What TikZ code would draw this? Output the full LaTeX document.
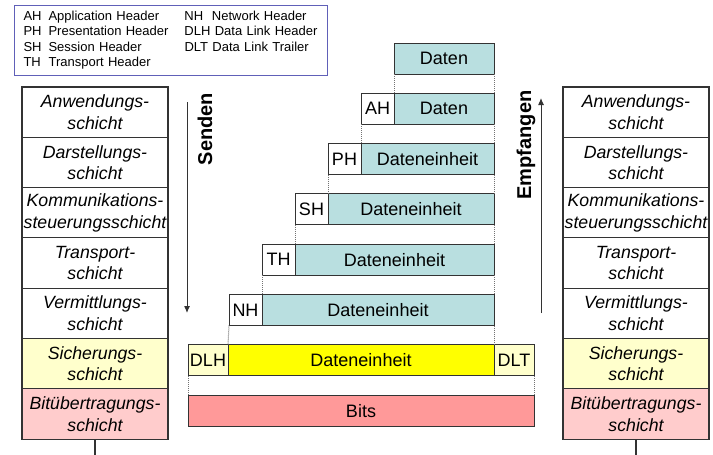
\documentclass[tikz,border=0pt]{standalone}
\usepackage{fontspec}
\setmainfont{Liberation Sans}
\usetikzlibrary{positioning,arrows.meta}
\definecolor{datablue}{RGB}{185,223,224}
\definecolor{frameyellow}{RGB}{255,255,0}
\definecolor{paleyellow}{RGB}{255,255,204}
\definecolor{bitred}{RGB}{255,153,153}
\definecolor{palered}{RGB}{255,204,204}
\definecolor{keyblue}{RGB}{96,96,184}
\tikzset{
  layer/.style={draw=black!80,line width=1.1pt,minimum width=146pt,minimum height=50.3pt,
    text width=146pt,align=center,inner sep=0pt,outer sep=0pt,
    font=\fontsize{17.7}{21.5}\selectfont\itshape},
  unit/.style={draw=black!80,line width=1pt,minimum height=31pt,inner sep=0pt,outer sep=0pt,
    font=\fontsize{18}{21}\selectfont},
  hdr/.style={unit,fill=white,minimum width=33pt},
  trail/.style={unit,fill=paleyellow,minimum width=40pt},
  gap/.style={black!55,dash pattern=on 1pt off 1pt,line width=1pt},
  dir/.style={font=\fontsize{20}{24}\selectfont\bfseries,rotate=90,inner sep=0pt,anchor=base},
  flow/.style={draw=black!80,line width=1pt,-{Latex[length=7pt,width=6pt]}},
  key/.style={draw=keyblue,line width=1pt,anchor=north west,text width=295pt,inner xsep=9pt,
    minimum height=70pt,font=\fontsize{13}{15.5}\selectfont}
}
\begin{document}
\begin{tikzpicture}[x=1pt,y=-1pt]
  \useasboundingbox (0,0) rectangle (713,455);
  % Legende
  \node[key] (key) at (14,5) {%
    \begin{tabular}{@{}l@{\hspace{7pt}}l@{\hspace{16pt}}l@{}}
      AH & Application Header & NH\ \ Network Header\\
      PH & Presentation Header & DLH Data Link Header\\
      SH & Session Header & DLT Data Link Trailer\\
      TH & Transport Header & \\
    \end{tabular}};

  % Schichten links
  \node[layer] (l1) at (95,112.15) {Anwendungs-\\schicht};
  \node[layer,below=0pt of l1] (l2) {Darstellungs-\\schicht};
  \node[layer,below=0pt of l2] (l3) {Kommunikations-\\steuerungsschicht};
  \node[layer,below=0pt of l3] (l4) {Transport-\\schicht};
  \node[layer,below=0pt of l4] (l5) {Vermittlungs-\\schicht};
  \node[layer,below=0pt of l5,fill=paleyellow] (l6) {Sicherungs-\\schicht};
  \node[layer,below=0pt of l6,fill=palered] (l7) {Bitübertragungs-\\schicht};
  \coordinate[below=16pt of l7] (lfoot);
  \draw[draw=black!80,line width=1.1pt] (l7.south) -- (lfoot);

  % Schichten rechts
  \node[layer] (r1) at (636,112.15) {Anwendungs-\\schicht};
  \node[layer,below=0pt of r1] (r2) {Darstellungs-\\schicht};
  \node[layer,below=0pt of r2] (r3) {Kommunikations-\\steuerungsschicht};
  \node[layer,below=0pt of r3] (r4) {Transport-\\schicht};
  \node[layer,below=0pt of r4] (r5) {Vermittlungs-\\schicht};
  \node[layer,below=0pt of r5,fill=paleyellow] (r6) {Sicherungs-\\schicht};
  \node[layer,below=0pt of r6,fill=palered] (r7) {Bitübertragungs-\\schicht};
  \coordinate[below=16pt of r7] (rfoot);
  \draw[draw=black!80,line width=1.1pt] (r7.south) -- (rfoot);

  % Richtung
  \node[dir] (send) at (212,129) {Senden};
  \coordinate (sendtop) at (187,102);
  \coordinate (sendend) at (187,313);
  \draw[flow] (sendtop) -- (sendend);
  \node[dir] (recv) at (531,145) {Empfangen};
  \coordinate (recvend) at (541,313);
  \coordinate (recvtop) at (541,98);
  \draw[flow] (recvend) -- (recvtop);

  % Dateneinheiten
  \node[unit,fill=datablue,minimum width=100pt,anchor=east] (d1) at (494,58.5) {Daten};
  \node[unit,fill=datablue,minimum width=100pt,anchor=east] (d2) at (494,108.8) {Daten};
  \node[hdr,left=0pt of d2] (ah) {AH};
  \node[unit,fill=datablue,minimum width=133pt,anchor=east] (d3) at (494,159.1) {Dateneinheit};
  \node[hdr,left=0pt of d3] (ph) {PH};
  \node[unit,fill=datablue,minimum width=166pt,anchor=east] (d4) at (494,209.4) {Dateneinheit};
  \node[hdr,left=0pt of d4] (sh) {SH};
  \node[unit,fill=datablue,minimum width=199pt,anchor=east] (d5) at (494,259.7) {Dateneinheit};
  \node[hdr,left=0pt of d5] (th) {TH};
  \node[unit,fill=datablue,minimum width=232pt,anchor=east] (d6) at (494,310) {Dateneinheit};
  \node[hdr,left=0pt of d6] (nh) {NH};
  \node[unit,fill=frameyellow,minimum width=266pt,anchor=east] (d7) at (494,360.3) {Dateneinheit};
  \node[trail,left=0pt of d7] (dlh) {DLH};
  \node[trail,right=0pt of d7] (dlt) {DLT};
  \node[unit,fill=bitred,minimum width=346pt,anchor=west] (bits) at (dlh.west |- 0,410.6) {Bits};

  % Hilfslinien
  \draw[gap] (d1.south west) -- (d2.north west);
  \draw[gap] (d1.south east) -- (d2.north east);
  \draw[gap] (ah.south west) -- (d3.north west);
  \draw[gap] (d2.south east) -- (d3.north east);
  \draw[gap] (ph.south west) -- (d4.north west);
  \draw[gap] (d3.south east) -- (d4.north east);
  \draw[gap] (sh.south west) -- (d5.north west);
  \draw[gap] (d4.south east) -- (d5.north east);
  \draw[gap] (th.south west) -- (d6.north west);
  \draw[gap] (d5.south east) -- (d6.north east);
  \draw[gap] (nh.south west) -- (d7.north west);
  \draw[gap] (d6.south east) -- (d7.north east);
  \draw[gap] (dlh.south west) -- (bits.north west);
  \draw[gap] (dlt.south east) -- (bits.north east);
\end{tikzpicture}
\end{document}
